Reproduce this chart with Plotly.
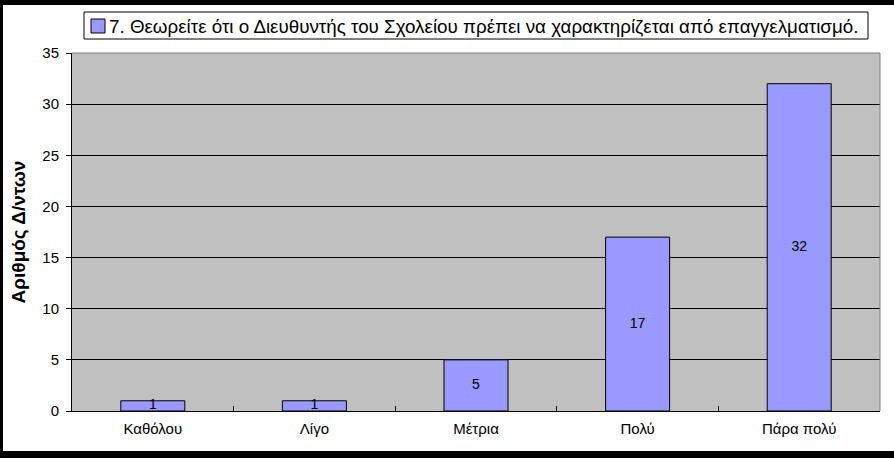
import plotly.graph_objects as go

CATEGORIES = ["Καθόλου", "Λίγο", "Μέτρια", "Πολύ", "Πάρα πολύ"]
COUNTS = [1, 1, 5, 17, 32]
SERIES_NAME = "7. Θεωρείτε ότι ο Διευθυντής του Σχολείου πρέπει να χαρακτηρίζεται από επαγγελματισμό."
Y_TITLE = "Αριθμός Δ/ντων"
Y_TICKS = [0, 5, 10, 15, 20, 25, 30, 35]

W, H = 894, 458
L, R, T, B = 72, 14, 53, 47
PW, PH = W - L - R, H - T - B

BAR_COLOR = "#9999FF"
FONT = "Liberation Sans, Arial, sans-serif"


def px_x(p):
    # pixel -> paper x
    return (p - L) / PW


def px_y(p):
    # pixel (from top) -> paper y
    return (H - B - p) / PH


fig = go.Figure()
fig.add_trace(go.Bar(
    x=CATEGORIES,
    y=COUNTS,
    name=SERIES_NAME,
    marker=dict(color=BAR_COLOR, line=dict(color="black", width=1)),
    showlegend=False,
))
# value labels centred in each bar
fig.add_trace(go.Scatter(
    x=CATEGORIES,
    y=[v / 2 for v in COUNTS],
    text=[str(v) for v in COUNTS],
    mode="text",
    textfont=dict(family=FONT, size=14, color="black"),
    showlegend=False,
    hoverinfo="skip",
))

shapes = [
    # gray top / right border of plot area
    dict(type="line", xref="paper", yref="paper", x0=0, x1=1, y0=1, y1=1,
         line=dict(color="#808080", width=1), layer="above"),
    dict(type="line", xref="paper", yref="paper", x0=1, x1=1, y0=0, y1=1,
         line=dict(color="#808080", width=1), layer="above"),
    # black frame round the chart
    dict(type="rect", xref="paper", yref="paper", x0=px_x(0), x1=px_x(W), y0=px_y(0), y1=px_y(5),
         fillcolor="black", line=dict(width=0)),
    dict(type="rect", xref="paper", yref="paper", x0=px_x(0), x1=px_x(3), y0=px_y(0), y1=px_y(H),
         fillcolor="black", line=dict(width=0)),
    dict(type="rect", xref="paper", yref="paper", x0=px_x(0), x1=px_x(W), y0=px_y(451), y1=px_y(H),
         fillcolor="black", line=dict(width=0)),
    # legend box + swatch
    dict(type="rect", xref="paper", yref="paper", x0=px_x(84), x1=px_x(868), y0=px_y(12), y1=px_y(39),
         fillcolor="white", line=dict(color="black", width=1)),
    dict(type="rect", xref="paper", yref="paper", x0=px_x(91), x1=px_x(105), y0=px_y(19), y1=px_y(33),
         fillcolor=BAR_COLOR, line=dict(color="black", width=1)),
]

fig.update_layout(
    width=W, height=H,
    margin=dict(l=L, r=R, t=T, b=B, pad=0),
    paper_bgcolor="white",
    plot_bgcolor="#C0C0C0",
    font=dict(family=FONT, size=15, color="black"),
    bargap=0.604,
    showlegend=False,
    shapes=shapes,
    annotations=[dict(
        text=SERIES_NAME, xref="paper", yref="paper",
        x=px_x(107), y=px_y(26), xanchor="left", yanchor="middle",
        showarrow=False, font=dict(family=FONT, size=18.8, color="black"),
    )],
)
fig.update_xaxes(
    showline=True, linecolor="black", linewidth=1,
    ticks="inside", tickson="boundaries", ticklen=5, tickcolor="black",
    showgrid=False, tickfont=dict(size=15), ticklabelstandoff=4,
    fixedrange=True,
)
fig.update_yaxes(
    range=[0, 35], tickvals=Y_TICKS,
    showline=True, linecolor="black", linewidth=1,
    ticks="outside", ticklen=5, tickcolor="black",
    showgrid=True, gridcolor="black", gridwidth=1,
    zeroline=False,
    tickfont=dict(size=15), ticklabelstandoff=4,
    title=dict(text="<b>" + Y_TITLE + "</b>", font=dict(size=19), standoff=11),
    fixedrange=True,
)

fig.write_html("out.html", config={"displayModeBar": False},
               post_script="document.body.style.margin='0';")
